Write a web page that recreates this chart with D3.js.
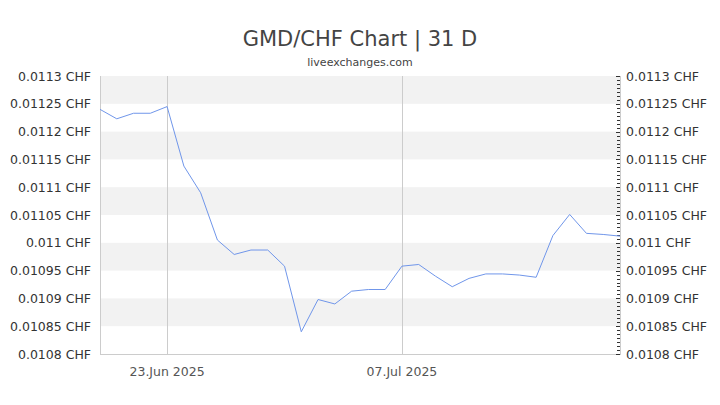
<!DOCTYPE html>
<html>
<head>
<meta charset="utf-8">
<script src="https://d3js.org/d3.v7.min.js"></script>
<style>
  body { margin: 0; background: #fff; }
  text { font-family: "DejaVu Sans", sans-serif; }
</style>
</head>
<body>
<div id="my_dataviz"></div>
<script>
// data
const dates = [
  "2025-06-19","2025-06-20","2025-06-21","2025-06-22","2025-06-23","2025-06-24",
  "2025-06-25","2025-06-26","2025-06-27","2025-06-28","2025-06-29","2025-06-30",
  "2025-07-01","2025-07-02","2025-07-03","2025-07-04","2025-07-05","2025-07-06",
  "2025-07-07","2025-07-08","2025-07-09","2025-07-10","2025-07-11","2025-07-12",
  "2025-07-13","2025-07-14","2025-07-15","2025-07-16","2025-07-17","2025-07-18",
  "2025-07-19","2025-07-20"
];
const rates = [
  0.011240, 0.011223, 0.011233, 0.011233, 0.011245, 0.011138,
  0.011090, 0.011005, 0.010979, 0.010987, 0.010987, 0.010958,
  0.010840, 0.010898, 0.010890, 0.010913, 0.010916, 0.010916,
  0.010958, 0.010961, 0.010940, 0.010921, 0.010936, 0.010944,
  0.010944, 0.010942, 0.010938, 0.011013, 0.011051, 0.011017,
  0.011015, 0.011012
];
const yTicks = [0.0108, 0.01085, 0.0109, 0.01095, 0.011, 0.01105, 0.0111, 0.01115, 0.0112, 0.01125, 0.0113];
const yTickLabels = ["0.0108 CHF","0.01085 CHF","0.0109 CHF","0.01095 CHF","0.011 CHF","0.01105 CHF",
  "0.0111 CHF","0.01115 CHF","0.0112 CHF","0.01125 CHF","0.0113 CHF"];
const xTicks = ["2025-06-23", "2025-07-07"];
const xTickLabels = ["23.Jun 2025", "07.Jul 2025"];

// dimensions
const W = 720, H = 405;
const margin = {top: 76, right: 100, bottom: 51, left: 100},
    width = W - margin.left - margin.right,
    height = H - margin.top - margin.bottom;

const svg = d3.select("#my_dataviz")
  .append("svg")
    .attr("width", W)
    .attr("height", H);

// title
svg.append("text")
  .attr("x", W / 2).attr("y", 46)
  .attr("text-anchor", "middle")
  .style("font-size", "21px")
  .style("fill", "#444")
  .text("GMD/CHF Chart | 31 D");
svg.append("text")
  .attr("x", W / 2).attr("y", 66)
  .attr("text-anchor", "middle")
  .style("font-size", "11px")
  .style("fill", "#444")
  .text("liveexchanges.com");

const g = svg.append("g")
  .attr("transform", `translate(${margin.left},${margin.top})`);

const parse = d3.utcParse("%Y-%m-%d");
const data = dates.map((d, i) => ({date: parse(d), value: rates[i]}));

// scales
const x = d3.scaleUtc()
  .domain(d3.extent(data, d => d.date))
  .range([0, width]);
const y = d3.scaleLinear()
  .domain([0.0108, 0.0113])
  .range([height, 0]);

// alternating bands, top one shaded
const bands = [];
for (let i = yTicks.length - 1; i > 0; i -= 2) bands.push([yTicks[i - 1], yTicks[i]]);
g.selectAll("rect.band")
  .data(bands)
  .join("rect")
    .attr("class", "band")
    .attr("x", 0)
    .attr("width", width)
    .attr("y", d => y(d[1]))
    .attr("height", d => y(d[0]) - y(d[1]))
    .attr("fill", "#f2f2f2");

// vertical grid lines
g.selectAll("line.vgrid")
  .data(xTicks)
  .join("line")
    .attr("class", "vgrid")
    .attr("x1", d => Math.round(x(parse(d))) + 0.5)
    .attr("x2", d => Math.round(x(parse(d))) + 0.5)
    .attr("y1", 0)
    .attr("y2", height)
    .attr("stroke", "#ccc");

// frame lines (left, right, bottom)
g.append("line")
  .attr("x1", 0.5).attr("x2", 0.5).attr("y1", 0).attr("y2", height)
  .attr("stroke", "#ccc");
g.append("line")
  .attr("x1", width + 0.5).attr("x2", width + 0.5).attr("y1", 0).attr("y2", height)
  .attr("stroke", "#ccc");
g.append("line")
  .attr("x1", 0).attr("x2", width + 1).attr("y1", height + 0.5).attr("y2", height + 0.5)
  .attr("stroke", "#ccc");

// left axis labels
g.selectAll("text.yl")
  .data(yTicks)
  .join("text")
    .attr("class", "yl")
    .attr("x", -9)
    .attr("y", d => y(d))
    .attr("dy", "0.36em")
    .attr("text-anchor", "end")
    .style("font-size", "12.5px")
    .style("fill", "#333")
    .text((d, i) => yTickLabels[i]);

// right axis labels
g.selectAll("text.yr")
  .data(yTicks)
  .join("text")
    .attr("class", "yr")
    .attr("x", width + 6)
    .attr("y", d => y(d))
    .attr("dy", "0.36em")
    .attr("text-anchor", "start")
    .style("font-size", "12.5px")
    .style("fill", "#333")
    .text((d, i) => yTickLabels[i]);

// right axis ticks, minor ones in between
const minor = [];
for (let i = 0; i < yTicks.length - 1; i++) {
  for (let k = 1; k < 7; k++) minor.push(yTicks[i] + (yTicks[i + 1] - yTicks[i]) * k / 7);
}
g.selectAll("line.minor")
  .data(minor)
  .join("line")
    .attr("class", "minor")
    .attr("x1", width - 3).attr("x2", width)
    .attr("y1", d => Math.round(y(d)) + 0.5)
    .attr("y2", d => Math.round(y(d)) + 0.5)
    .attr("stroke", "#333");
g.selectAll("line.major")
  .data(yTicks)
  .join("line")
    .attr("class", "major")
    .attr("x1", width - 4).attr("x2", width)
    .attr("y1", d => Math.round(y(d)) + 0.5)
    .attr("y2", d => Math.round(y(d)) + 0.5)
    .attr("stroke", "#333");

// x labels
g.selectAll("text.xl")
  .data(xTicks)
  .join("text")
    .attr("class", "xl")
    .attr("x", d => x(parse(d)))
    .attr("y", height + 22)
    .attr("text-anchor", "middle")
    .style("font-size", "12.5px")
    .style("fill", "#555")
    .text((d, i) => xTickLabels[i]);

// the line
g.append("path")
  .datum(data)
  .attr("fill", "none")
  .attr("stroke", "#7096ea")
  .attr("stroke-width", 1)
  .attr("d", d3.line()
    .x(d => x(d.date))
    .y(d => y(d.value)));
</script>
</body>
</html>
